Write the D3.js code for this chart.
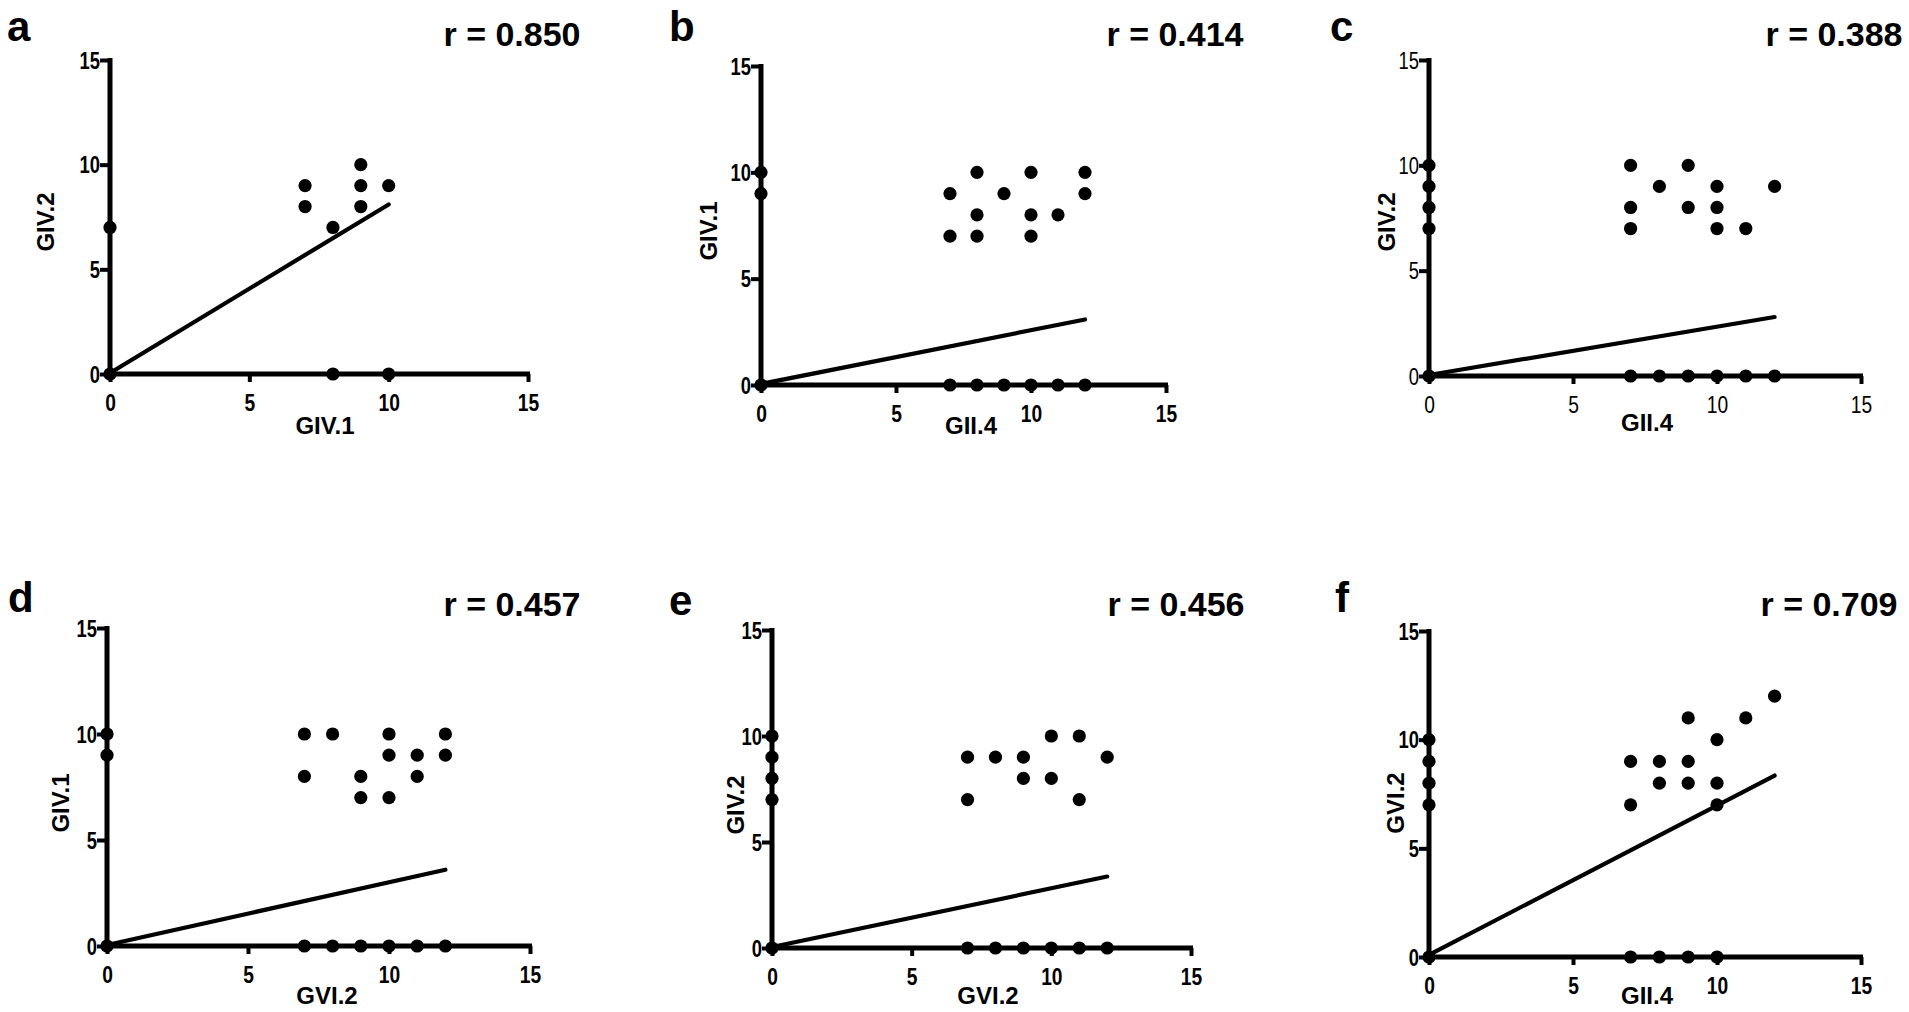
<!DOCTYPE html>
<html>
<head>
<meta charset="utf-8">
<script src="https://cdn.jsdelivr.net/npm/d3@7/dist/d3.min.js"></script>
<style>
  html, body { margin: 0; padding: 0; background: #fff; }
  svg { display: block; }
  text { font-family: "Liberation Sans", Arial, Helvetica, sans-serif; fill: #000; }
</style>
</head>
<body>
<svg id="chart" width="1909" height="1012"></svg>
<script>
// ---------------- DATA ----------------
const panelIds = ['a', 'b', 'c', 'd', 'e', 'f'];
const rLabels = ['r = 0.850', 'r = 0.414', 'r = 0.388', 'r = 0.457', 'r = 0.456', 'r = 0.709'];
const xTitles = ['GIV.1', 'GII.4', 'GII.4', 'GVI.2', 'GVI.2', 'GII.4'];
const yTitles = ['GIV.2', 'GIV.1', 'GIV.2', 'GIV.1', 'GIV.2', 'GVI.2'];
const tickValues = [0, 5, 10, 15];
const tickLabels = ['0', '5', '10', '15'];
const axisDomain = [0, 15];

const aX = [0, 0, 7, 7, 8, 8, 9, 9, 9, 10, 10];
const aY = [0, 7, 9, 8, 7, 0, 10, 9, 8, 9, 0];
const aFit = [0, 0.05, 10, 8.1];

const bX = [0, 0, 0, 7, 7, 7, 8, 8, 8, 8, 9, 9, 10, 10, 10, 10, 11, 11, 12, 12, 12];
const bY = [0, 9, 10, 9, 7, 0, 10, 8, 7, 0, 9, 0, 10, 8, 7, 0, 8, 0, 10, 9, 0];
const bFit = [0, 0.05, 12, 3.08];

const cX = [0, 0, 0, 0, 0, 7, 7, 7, 7, 8, 8, 9, 9, 9, 10, 10, 10, 10, 11, 11, 12, 12];
const cY = [0, 7, 8, 9, 10, 10, 8, 7, 0, 9, 0, 10, 8, 0, 9, 8, 7, 0, 7, 0, 9, 0];
const cFit = [0, 0.05, 12, 2.8];

const dX = [0, 0, 0, 7, 7, 7, 8, 8, 9, 9, 9, 10, 10, 10, 10, 11, 11, 11, 12, 12, 12];
const dY = [0, 9, 10, 10, 8, 0, 10, 0, 8, 7, 0, 10, 9, 7, 0, 9, 8, 0, 10, 9, 0];
const dFit = [0, 0.05, 12, 3.6];

const eX = [0, 0, 0, 0, 0, 7, 7, 7, 8, 8, 9, 9, 9, 10, 10, 10, 11, 11, 11, 12, 12];
const eY = [0, 7, 8, 9, 10, 9, 7, 0, 9, 0, 9, 8, 0, 10, 8, 0, 10, 7, 0, 9, 0];
const eFit = [0, 0.05, 12, 3.37];

const fX = [0, 0, 0, 0, 0, 7, 7, 7, 8, 8, 8, 9, 9, 9, 9, 10, 10, 10, 10, 11, 12];
const fY = [0, 7, 8, 9, 10, 9, 7, 0, 9, 8, 0, 11, 9, 8, 0, 10, 8, 7, 0, 11, 12];
const fFit = [0, 0.1, 12, 8.35];

const seriesX = [aX, bX, cX, dX, eX, fX];
const seriesY = [aY, bY, cY, dY, eY, fY];
const fits = [aFit, bFit, cFit, dFit, eFit, fFit];

// ---------------- LAYOUT (positions / styles only) ----------------
const layout = [
  { ox: 110,  xe: 528,  oy: 374, yt: 60,  lx: 7,    lb: 41,  rx: 512,  rb: 46,  ytx: 45,   yty: 222, xtx: 325,  xtb: 434, tickW: 'bold' },
  { ox: 761,  xe: 1166, oy: 385, yt: 66,  lx: 669,  lb: 41,  rx: 1175, rb: 46,  ytx: 708,  yty: 231, xtx: 971,  xtb: 434, tickW: 'bold' },
  { ox: 1429, xe: 1861, oy: 376, yt: 60,  lx: 1330, lb: 41,  rx: 1834, rb: 46,  ytx: 1386, yty: 222, xtx: 1647, xtb: 431, tickW: 'normal' },
  { ox: 107,  xe: 530,  oy: 946, yt: 628, lx: 8,    lb: 612, rx: 512,  rb: 616, ytx: 60,   yty: 803, xtx: 327,  xtb: 1004, tickW: 'bold' },
  { ox: 772,  xe: 1191, oy: 948, yt: 630, lx: 669,  lb: 615, rx: 1176, rb: 616, ytx: 735,  yty: 805, xtx: 988,  xtb: 1004, tickW: 'bold' },
  { ox: 1429, xe: 1861, oy: 957, yt: 631, lx: 1335, lb: 612, rx: 1829, rb: 616, ytx: 1395, yty: 803, xtx: 1647, xtb: 1004, tickW: 'bold' }
];
const condense = 0.8;

const svg = d3.select('#chart');
svg.append('rect').attr('width', 1909).attr('height', 1012).attr('fill', '#fff');

panelIds.forEach((id, i) => {
  const L = layout[i];
  const x = d3.scaleLinear().domain(axisDomain).range([L.ox, L.xe]);
  const y = d3.scaleLinear().domain(axisDomain).range([L.oy, L.yt]);
  const g = svg.append('g').attr('class', 'panel-' + id);

  // regression line
  const fit = fits[i];
  g.append('line')
    .attr('x1', x(fit[0])).attr('y1', y(fit[1]))
    .attr('x2', x(fit[2])).attr('y2', y(fit[3]))
    .attr('stroke', '#000').attr('stroke-width', 4.2).attr('stroke-linecap', 'round');

  // x axis
  const xa = g.append('g').attr('transform', `translate(0,${L.oy})`)
    .call(d3.axisBottom(x).tickValues(tickValues).tickFormat((d, k) => tickLabels[k]).tickSize(8).tickSizeOuter(0).tickPadding(4));
  xa.select('.domain').attr('stroke', '#000').attr('stroke-width', 5).attr('d', `M${L.ox - 2},0H${L.xe + 2}`);
  xa.selectAll('.tick line').attr('stroke', '#000').attr('stroke-width', 4);
  xa.selectAll('.tick text')
    .attr('font-size', 24).attr('font-weight', L.tickW).attr('fill', L.tickW === 'bold' ? '#000' : '#222')
    .attr('y', 37).attr('dy', null)
    .attr('transform', `scale(${condense},1)`);

  // y axis
  const ya = g.append('g').attr('transform', `translate(${L.ox},0)`)
    .call(d3.axisLeft(y).tickValues(tickValues).tickFormat((d, k) => tickLabels[k]).tickSize(10).tickSizeOuter(0).tickPadding(0));
  ya.select('.domain').attr('stroke', '#000').attr('stroke-width', 5).attr('d', `M0,${L.oy + 2}V${L.yt - 2}`);
  ya.selectAll('.tick line').attr('stroke', '#000').attr('stroke-width', 4);
  ya.selectAll('.tick text')
    .attr('font-size', 23).attr('font-weight', L.tickW).attr('fill', L.tickW === 'bold' ? '#000' : '#222')
    .attr('x', -10 / condense).attr('dy', '0.36em')
    .attr('transform', `scale(${condense},1)`);

  // points
  g.append('g').selectAll('circle')
    .data(seriesX[i].map((v, k) => [v, seriesY[i][k]]))
    .join('circle')
    .attr('cx', d => x(d[0])).attr('cy', d => y(d[1]))
    .attr('r', 6.6).attr('fill', '#000');

  // panel letter
  g.append('text').attr('x', L.lx).attr('y', L.lb)
    .attr('font-size', 42).attr('font-weight', 'bold').text(id);

  // r label
  g.append('text').attr('x', L.rx).attr('y', L.rb).attr('text-anchor', 'middle')
    .attr('font-size', 34).attr('font-weight', 'bold').text(rLabels[i]);

  // axis titles
  g.append('text').attr('x', L.xtx).attr('y', L.xtb).attr('text-anchor', 'middle')
    .attr('font-size', 24).attr('font-weight', 'bold').text(xTitles[i]);
  g.append('text').attr('transform', `translate(${L.ytx},${L.yty}) rotate(-90)`)
    .attr('text-anchor', 'middle').attr('dy', '0.36em')
    .attr('font-size', 24).attr('font-weight', 'bold').text(yTitles[i]);
});
</script>
</body>
</html>
